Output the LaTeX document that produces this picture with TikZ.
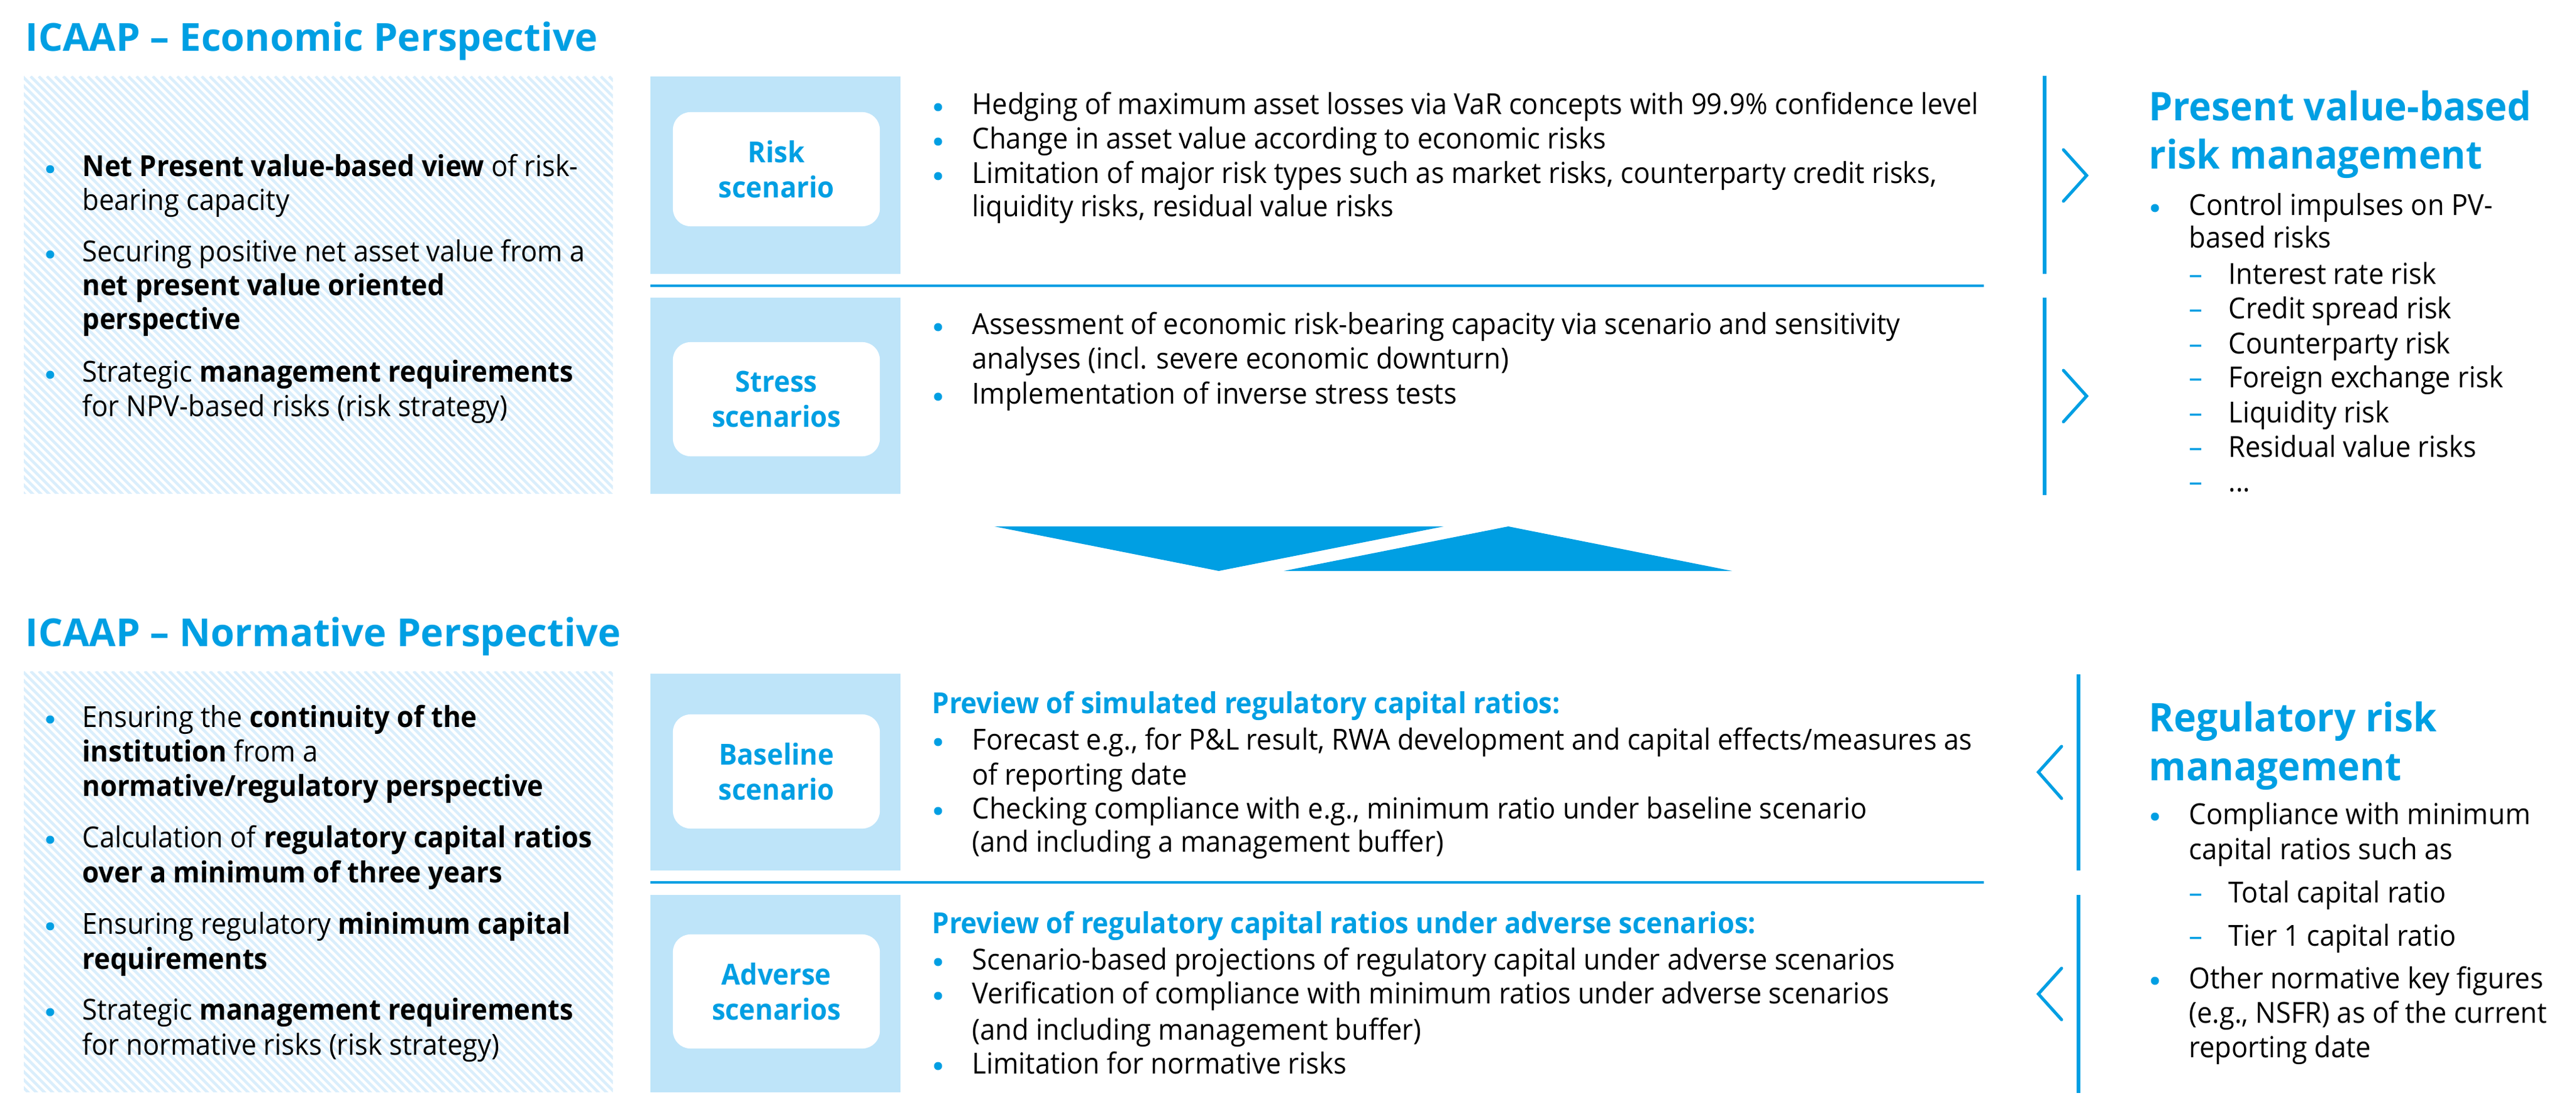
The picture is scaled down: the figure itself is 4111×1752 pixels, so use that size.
\documentclass[tikz,border=0pt]{standalone}
\usepackage{fontspec}
\setmainfont{Open Sans}[FakeStretch=0.94]
\newfontfamily\titlefont{Open Sans}[FakeStretch=1.0]
\newfontfamily\rheadfont{Open Sans}[FakeStretch=0.96]
\definecolor{blu}{RGB}{0,159,227}
\definecolor{lblu}{RGB}{190,228,249}
\definecolor{hatchc}{RGB}{218,238,252}
\newcommand\Lines[5]{%
  \foreach \t [count=\i from 0] in {#5} {\node[txt] (#1-\i) at (#2,#3+\i*#4) {\t};}}
\newcommand\Dsh[3]{\node[dsh] (#1) at (3493,#2) {–};\node[txt] (#1t) at (3556,#2) {#3};}
\tikzset{
  txt/.style={inner sep=0pt, anchor=base west, font=\fontsize{13.15}{15.6}\selectfont, text=black},
  bhead/.style={txt, font=\fontsize{13.15}{15.6}\selectfont\bfseries, text=blu},
  title/.style={inner sep=0pt, anchor=base west, font=\titlefont\fontsize{17.5}{20}\selectfont\bfseries, text=blu},
  rhead/.style={inner sep=0pt, anchor=base west, font=\rheadfont\fontsize{17.9}{21.9}\selectfont\bfseries, text=blu},
  bul/.style={circle, fill=blu, inner sep=0pt, minimum size=0.13cm},
  dsh/.style={txt, text=blu},
  wbox/.style={fill=white, rounded corners=0.28cm, minimum width=3.3cm, minimum height=1.82cm, inner sep=0pt,
     align=center, font=\fontsize{13.15}{15.9}\selectfont\bfseries, text=blu},
  vline/.style={blu, line width=0.06cm},
  sep/.style={blu, line width=0.035cm},
  chev/.style={blu, line width=0.05cm, line cap=round, line join=miter},
}
\begin{document}
\begin{tikzpicture}[x=0.01cm,y=-0.01cm]
\useasboundingbox[fill=white] (0,0) rectangle (4111,1752);

% ---------- hatched boxes ----------
\begin{scope}
\clip (38,122) rectangle (978,787);
\foreach \k in {-640,-627,...,980} \draw[hatchc, line width=0.045cm] (\k,122) -- ++(700,700);
\end{scope}
\begin{scope}
\clip (38,1071) rectangle (978,1742);
\foreach \k in {-640,-627,...,980} \draw[hatchc, line width=0.045cm] (\k,1071) -- ++(700,700);
\end{scope}

% ---------- light blue boxes ----------
\fill[lblu] (1038,122) rectangle (1437,437);
\fill[lblu] (1038,475) rectangle (1437,788);
\fill[lblu] (1038,1075) rectangle (1437,1389);
\fill[lblu] (1038,1428) rectangle (1437,1743);
\node[wbox] (w1) at (1239,270) {Risk\\scenario};
\node[wbox] (w2) at (1239,637) {Stress\\scenarios};
\node[wbox] (w3) at (1239,1231) {Baseline\\scenario};
\node[wbox] (w4) at (1239,1582) {Adverse\\scenarios};

% ---------- separators, vertical lines, chevrons ----------
\draw[sep] (1038,456) -- (3166,456);
\draw[sep] (1038,1408) -- (3166,1408);
\draw[vline] (3263,121) -- (3263,437);
\draw[vline] (3263,475) -- (3263,790);
\draw[vline] (3317,1076) -- (3317,1389);
\draw[vline] (3317,1428) -- (3317,1744);
\draw[chev] (3293,239) -- (3330,280) -- (3293,321);
\draw[chev] (3293,591) -- (3330,632) -- (3293,673);
\draw[chev] (3290,1191) -- (3253,1232) -- (3290,1274);
\draw[chev] (3290,1545) -- (3253,1586) -- (3290,1627);

% ---------- middle triangles ----------
\fill[blu] (1587,840) -- (2304,840) -- (1945,911) -- cycle;
\fill[blu] (2049,911) -- (2764,911) -- (2407,840) -- cycle;

% ---------- titles ----------
\node[title] (t1) at (40,82) {ICAAP – Economic Perspective};
\node[title] (t2) at (40,1031) {ICAAP – Normative Perspective};

% ---------- left economic ----------
\node[bul] (lb1) at (80,270) {};
\Lines{le1}{131}{282}{54}{{\textbf{Net Present value-based view} of risk-},{bearing capacity}}
\node[bul] (lb2) at (80,406) {};
\Lines{le2}{131}{418}{54}{{Securing positive net asset value from a},{\textbf{net present value oriented}},{\textbf{perspective}}}
\node[bul] (lb3) at (80,598) {};
\Lines{le3}{131}{610}{54}{{Strategic \textbf{management requirements}},{for NPV-based risks (risk strategy)}}

% ---------- middle economic ----------
\node[bul] (mb1) at (1497,171) {};
\Lines{me1}{1551}{183}{55}{{Hedging of maximum asset losses via VaR concepts with 99.9\% confidence level}}
\node[bul] (mb2) at (1497,226) {};
\Lines{me2}{1551}{238}{55}{{Change in asset value according to economic risks}}
\node[bul] (mb3) at (1497,281) {};
\Lines{me3}{1551}{293}{53}{{Limitation of major risk types such as market risks, counterparty credit risks,},{liquidity risks, residual value risks}}
\node[bul] (mb4) at (1497,522) {};
\Lines{me4}{1551}{534}{55}{{Assessment of economic risk-bearing capacity via scenario and sensitivity},{analyses (incl. severe economic downturn)}}
\node[bul] (mb5) at (1497,633) {};
\Lines{me5}{1551}{645}{55}{{Implementation of inverse stress tests}}

% ---------- right economic ----------
\node[rhead] (rh1a) at (3429,193) {Present value-based};
\node[rhead] (rh1b) at (3429,270) {risk management};
\node[bul] (rb1) at (3439,332) {};
\Lines{re1}{3493}{344}{52}{{Control impulses on PV-},{based risks}}
\Dsh{rd1}{454}{Interest rate risk}
\Dsh{rd2}{509}{Credit spread risk}
\Dsh{rd3}{564}{Counterparty risk}
\Dsh{rd4}{619}{Foreign exchange risk}
\Dsh{rd5}{674}{Liquidity risk}
\Dsh{rd6}{729}{Residual value risks}
\Dsh{rd7}{784}{...}

% ---------- left normative ----------
\node[bul] (nb1) at (80,1148) {};
\Lines{ln1}{131}{1160}{55}{{Ensuring the \textbf{continuity of the}},{\textbf{institution} from a},{\textbf{normative/regulatory perspective}}}
\node[bul] (nb2) at (80,1340) {};
\Lines{ln2}{131}{1352}{56}{{Calculation of \textbf{regulatory capital ratios}},{\textbf{over a minimum of three years}}}
\node[bul] (nb3) at (80,1478) {};
\Lines{ln3}{131}{1490}{56}{{Ensuring regulatory \textbf{minimum capital}},{\textbf{requirements}}}
\node[bul] (nb4) at (80,1615) {};
\Lines{ln4}{131}{1627}{56}{{Strategic \textbf{management requirements}},{for normative risks (risk strategy)}}

% ---------- middle normative ----------
\node[bhead] (mh1) at (1487,1138) {Preview of simulated regulatory capital ratios:};
\node[bul] (mn1) at (1497,1184) {};
\Lines{mn1t}{1551}{1196}{56}{{Forecast e.g., for P\&L result, RWA development and capital effects/measures as},{of reporting date}}
\node[bul] (mn2) at (1497,1294) {};
\Lines{mn2t}{1551}{1306}{53}{{Checking compliance with e.g., minimum ratio under baseline scenario},{(and including a management buffer)}}
\node[bhead] (mh2) at (1487,1489) {Preview of regulatory capital ratios under adverse scenarios:};
\node[bul] (mn3) at (1497,1535) {};
\Lines{mn3t}{1551}{1547}{55}{{Scenario-based projections of regulatory capital under adverse scenarios}}
\node[bul] (mn4) at (1497,1589) {};
\Lines{mn4t}{1551}{1601}{58}{{Verification of compliance with minimum ratios under adverse scenarios},{(and including management buffer)}}
\node[bul] (mn5) at (1497,1701) {};
\Lines{mn5t}{1551}{1713}{55}{{Limitation for normative risks}}

% ---------- right normative ----------
\node[rhead] (rh2a) at (3429,1167) {Regulatory risk};
\node[rhead] (rh2b) at (3429,1245) {management};
\node[bul] (rn1) at (3439,1303) {};
\Lines{rn1t}{3493}{1315}{56}{{Compliance with minimum},{capital ratios such as}}
\Dsh{rnd1}{1440}{Total capital ratio}
\Dsh{rnd2}{1509}{Tier 1 capital ratio}
\node[bul] (rn2) at (3439,1565) {};
\Lines{rn2t}{3493}{1577}{55}{{Other normative key figures},{(e.g., NSFR) as of the current},{reporting date}}
\end{tikzpicture}
\end{document}
